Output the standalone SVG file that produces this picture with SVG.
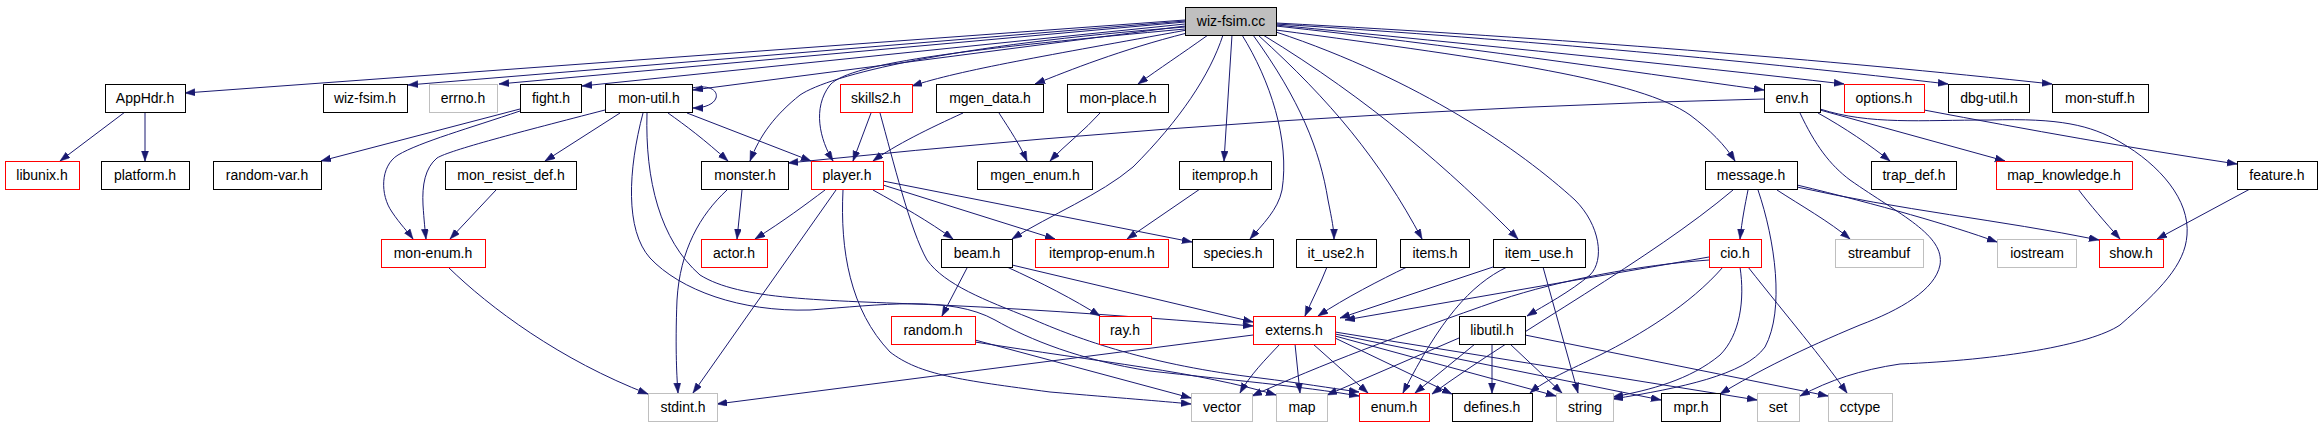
<svg xmlns="http://www.w3.org/2000/svg" width="2323" height="427" viewBox="0 0 2323 427">
<style>
rect{fill:#fff;stroke:#000;stroke-width:1}
rect.r{stroke:#ff0000}
rect.g{stroke:#bfbfbf}
rect.m{fill:#bfbfbf;stroke:#000}
text{font-family:"Liberation Sans",Arial,sans-serif;font-size:14px;text-anchor:middle;fill:#000}
#edges path{fill:none;stroke:#191970;stroke-width:1;marker-end:url(#arr)}
</style>
<defs>
<marker id="arr" markerUnits="userSpaceOnUse" markerWidth="11" markerHeight="8" refX="10" refY="3.5" orient="auto">
<path d="M0,0 L10,3.5 L0,7 z" fill="#191970" stroke="#191970" stroke-width="0.5"/>
</marker>
</defs>
<rect x="0" y="0" width="2323" height="427" style="fill:#fff;stroke:none"/>
<g id="edges">
<path d="M1185,20 L185,93"/>
<path d="M1185,21 L408,85"/>
<path d="M1185,22 L499,84"/>
<path d="M1185,24 L582,86"/>
<path d="M1185,26 L693,90"/>
<path d="M1185,27 C950,45 830,75 800,95 C775,115 760,135 750,161"/>
<path d="M1185,29 C980,48 850,62 830,85 C812,108 820,140 833,161"/>
<path d="M1187,30 C1050,55 960,70 912,86"/>
<path d="M1187,33 C1120,50 1070,70 1035,84"/>
<path d="M1208,35 C1180,55 1160,68 1138,84"/>
<path d="M1232,35 L1224,161"/>
<path d="M1223,35 C1210,75 1180,120 1133,167 C1100,195 1050,215 1012,239"/>
<path d="M1242,35 C1270,80 1290,140 1282,190 C1278,210 1262,225 1250,239"/>
<path d="M1253,35 C1300,100 1320,150 1328,200 C1332,220 1334,230 1334,239"/>
<path d="M1258,35 C1330,100 1380,160 1422,239"/>
<path d="M1263,35 C1370,100 1450,170 1518,239"/>
<path d="M1276,32 C1420,80 1520,150 1575,200 C1600,225 1605,260 1590,275 C1570,292 1545,305 1527,316"/>
<path d="M1276,30 C1500,60 1640,80 1690,115 C1710,130 1725,145 1735,161"/>
<path d="M1276,26 C1450,45 1620,70 1764,90"/>
<path d="M1276,25 C1480,45 1680,65 1844,84"/>
<path d="M1276,24 C1530,40 1760,62 1948,84"/>
<path d="M1276,23 C1560,38 1830,60 2052,84"/>
<path d="M125,112 L60,161"/>
<path d="M145,112 L145,161"/>
<path d="M520,109 L321,161"/>
<path d="M520,111 C470,128 420,142 398,155 C380,166 380,195 392,212 C400,224 408,232 413,239"/>
<path d="M605,110 C520,132 450,150 437,158 C425,168 422,185 423,205 C424,220 425,230 426,239"/>
<path d="M620,113 L545,161"/>
<path d="M496,190 L450,239"/>
<path d="M448,267 C490,308 560,360 648,394"/>
<path d="M692,88 C712,84 718,92 716,98 C714,104 705,108 693,108"/>
<path d="M668,113 C685,125 705,140 728,161"/>
<path d="M687,113 L811,161"/>
<path d="M647,113 C645,180 660,240 700,275 C740,300 820,300 940,305 C1050,310 1150,318 1253,326"/>
<path d="M643,113 C628,170 625,230 650,258 C680,290 740,312 810,310 C880,305 950,295 995,320 C1030,340 1080,360 1150,371 C1230,380 1300,386 1359,396"/>
<path d="M742,190 L737,239"/>
<path d="M727,190 C700,215 680,250 677,300 C675,350 677,380 678,393"/>
<path d="M825,190 C805,205 785,220 755,239"/>
<path d="M836,190 L693,393"/>
<path d="M843,190 C840,250 850,310 890,352 C920,375 960,380 1050,392 C1120,398 1160,401 1191,404"/>
<path d="M873,190 C900,205 930,222 953,239"/>
<path d="M883,185 L1055,239"/>
<path d="M883,181 L1192,242"/>
<path d="M871,113 L853,161"/>
<path d="M880,113 C893,160 910,230 927,260 C945,285 985,300 1030,318 C1080,340 1150,365 1260,378 C1300,383 1330,388 1359,392"/>
<path d="M963,113 C930,128 895,145 873,161"/>
<path d="M999,113 C1010,130 1020,145 1027,161"/>
<path d="M1100,113 C1085,130 1065,145 1050,161"/>
<path d="M1200,189 L1127,239"/>
<path d="M967,268 L942,316"/>
<path d="M1007,267 C1040,282 1075,300 1100,316"/>
<path d="M1012,265 L1253,322"/>
<path d="M975,340 L1191,398"/>
<path d="M975,342 C1100,362 1200,372 1276,395"/>
<path d="M1253,335 L717,404"/>
<path d="M1280,344 C1265,360 1250,375 1240,393"/>
<path d="M1295,344 L1300,393"/>
<path d="M1313,344 L1368,393"/>
<path d="M1335,338 L1452,394"/>
<path d="M1335,336 L1556,396"/>
<path d="M1335,334 L1661,400"/>
<path d="M1335,332 L1757,400"/>
<path d="M1327,267 C1320,285 1312,300 1305,316"/>
<path d="M1407,267 C1380,280 1345,298 1318,316"/>
<path d="M1493,267 L1340,318"/>
<path d="M1507,267 C1470,285 1440,320 1403,393"/>
<path d="M1543,267 L1578,393"/>
<path d="M1459,338 L1327,395"/>
<path d="M1475,344 L1415,393"/>
<path d="M1492,344 L1492,393"/>
<path d="M1510,344 L1562,393"/>
<path d="M1525,335 L1828,396"/>
<path d="M1709,257 L1345,320"/>
<path d="M1709,260 C1640,265 1560,280 1500,300 C1400,335 1320,365 1252,396"/>
<path d="M1723,267 C1690,305 1640,335 1600,355 C1570,370 1545,380 1530,393"/>
<path d="M1740,267 C1745,300 1740,335 1720,355 C1690,380 1650,390 1613,397"/>
<path d="M1733,190 C1650,260 1520,330 1432,394"/>
<path d="M1758,190 C1775,240 1785,310 1765,347 C1745,375 1680,388 1613,399"/>
<path d="M1748,267 C1790,320 1820,355 1847,393"/>
<path d="M1748,190 C1745,205 1742,220 1740,239"/>
<path d="M1777,190 C1800,205 1830,222 1850,239"/>
<path d="M1797,185 C1880,205 1950,225 1997,242"/>
<path d="M1797,187 C1900,210 2000,220 2099,240"/>
<path d="M1764,99 Q1300,110 788,163"/>
<path d="M1818,113 C1845,128 1870,145 1890,161"/>
<path d="M1820,110 L2005,161"/>
<path d="M1800,113 C1815,145 1830,165 1850,180 C1900,215 1945,235 1940,265 C1935,290 1900,310 1860,325 C1800,350 1760,370 1720,394"/>
<path d="M1820,109 C1870,125 1920,120 1990,120 C2060,118 2090,125 2120,142 C2160,165 2190,200 2187,235 C2185,265 2160,290 2120,325 C2090,345 2000,360 1900,364 C1860,370 1830,380 1800,396"/>
<path d="M1924,110 C2030,130 2130,148 2237,164"/>
<path d="M2078,189 C2090,205 2105,222 2120,239"/>
<path d="M2250,189 L2157,239"/>
</g>
<g id="node-wiz-fsim-cc"><rect class="m" x="1185.5" y="7.5" width="91" height="28"/><text x="1231" y="26">wiz-fsim.cc</text></g>
<g id="node-AppHdr"><rect x="105.5" y="84.5" width="80" height="28"/><text x="145" y="103">AppHdr.h</text></g>
<g id="node-wiz-fsim-h"><rect x="323.5" y="84.5" width="84" height="28"/><text x="365" y="103">wiz-fsim.h</text></g>
<g id="node-errno"><rect class="g" x="429.5" y="84.5" width="68" height="28"/><text x="463" y="103">errno.h</text></g>
<g id="node-fight"><rect x="520.5" y="84.5" width="61" height="28"/><text x="551" y="103">fight.h</text></g>
<g id="node-mon-util"><rect x="605.5" y="84.5" width="87" height="28"/><text x="649" y="103">mon-util.h</text></g>
<g id="node-skills2"><rect class="r" x="840.5" y="84.5" width="72" height="28"/><text x="876" y="103">skills2.h</text></g>
<g id="node-mgen_data"><rect x="936.5" y="84.5" width="107" height="28"/><text x="990" y="103">mgen_data.h</text></g>
<g id="node-mon-place"><rect x="1067.5" y="84.5" width="101" height="28"/><text x="1118" y="103">mon-place.h</text></g>
<g id="node-env"><rect x="1764.5" y="84.5" width="56" height="28"/><text x="1792" y="103">env.h</text></g>
<g id="node-options"><rect class="r" x="1844.5" y="84.5" width="80" height="28"/><text x="1884" y="103">options.h</text></g>
<g id="node-dbg-util"><rect x="1948.5" y="84.5" width="81" height="28"/><text x="1989" y="103">dbg-util.h</text></g>
<g id="node-mon-stuff"><rect x="2052.5" y="84.5" width="96" height="28"/><text x="2100" y="103">mon-stuff.h</text></g>
<g id="node-libunix"><rect class="r" x="5.5" y="161.5" width="74" height="28"/><text x="42" y="180">libunix.h</text></g>
<g id="node-platform"><rect x="101.5" y="161.5" width="88" height="28"/><text x="145" y="180">platform.h</text></g>
<g id="node-random-var"><rect x="213.5" y="161.5" width="108" height="28"/><text x="267" y="180">random-var.h</text></g>
<g id="node-mon_resist_def"><rect x="445.5" y="161.5" width="131" height="28"/><text x="511" y="180">mon_resist_def.h</text></g>
<g id="node-monster"><rect x="701.5" y="161.5" width="87" height="28"/><text x="745" y="180">monster.h</text></g>
<g id="node-player"><rect class="r" x="811.5" y="161.5" width="72" height="28"/><text x="847" y="180">player.h</text></g>
<g id="node-mgen_enum"><rect x="977.5" y="161.5" width="115" height="28"/><text x="1035" y="180">mgen_enum.h</text></g>
<g id="node-itemprop"><rect x="1179.5" y="161.5" width="92" height="28"/><text x="1225" y="180">itemprop.h</text></g>
<g id="node-message"><rect x="1705.5" y="161.5" width="92" height="28"/><text x="1751" y="180">message.h</text></g>
<g id="node-trap_def"><rect x="1871.5" y="161.5" width="85" height="28"/><text x="1914" y="180">trap_def.h</text></g>
<g id="node-map_knowledge"><rect class="r" x="1996.5" y="161.5" width="136" height="28"/><text x="2064" y="180">map_knowledge.h</text></g>
<g id="node-feature"><rect x="2237.5" y="161.5" width="80" height="28"/><text x="2277" y="180">feature.h</text></g>
<g id="node-mon-enum"><rect class="r" x="381.5" y="239.5" width="104" height="28"/><text x="433" y="258">mon-enum.h</text></g>
<g id="node-actor"><rect class="r" x="701.5" y="239.5" width="66" height="28"/><text x="734" y="258">actor.h</text></g>
<g id="node-beam"><rect x="941.5" y="239.5" width="71" height="28"/><text x="977" y="258">beam.h</text></g>
<g id="node-itemprop-enum"><rect class="r" x="1035.5" y="239.5" width="133" height="28"/><text x="1102" y="258">itemprop-enum.h</text></g>
<g id="node-species"><rect x="1192.5" y="239.5" width="81" height="28"/><text x="1233" y="258">species.h</text></g>
<g id="node-it_use2"><rect x="1296.5" y="239.5" width="80" height="28"/><text x="1336" y="258">it_use2.h</text></g>
<g id="node-items"><rect x="1400.5" y="239.5" width="69" height="28"/><text x="1435" y="258">items.h</text></g>
<g id="node-item_use"><rect x="1493.5" y="239.5" width="92" height="28"/><text x="1539" y="258">item_use.h</text></g>
<g id="node-cio"><rect class="r" x="1709.5" y="239.5" width="52" height="28"/><text x="1735" y="258">cio.h</text></g>
<g id="node-streambuf"><rect class="g" x="1835.5" y="239.5" width="88" height="28"/><text x="1879" y="258">streambuf</text></g>
<g id="node-iostream"><rect class="g" x="1997.5" y="239.5" width="79" height="28"/><text x="2037" y="258">iostream</text></g>
<g id="node-show"><rect class="r" x="2099.5" y="239.5" width="64" height="28"/><text x="2131" y="258">show.h</text></g>
<g id="node-random"><rect class="r" x="891.5" y="316.5" width="84" height="28"/><text x="933" y="335">random.h</text></g>
<g id="node-ray"><rect class="r" x="1099.5" y="316.5" width="52" height="28"/><text x="1125" y="335">ray.h</text></g>
<g id="node-externs"><rect class="r" x="1253.5" y="316.5" width="82" height="28"/><text x="1294" y="335">externs.h</text></g>
<g id="node-libutil"><rect x="1459.5" y="316.5" width="66" height="28"/><text x="1492" y="335">libutil.h</text></g>
<g id="node-stdint"><rect class="g" x="648.5" y="393.5" width="69" height="28"/><text x="683" y="412">stdint.h</text></g>
<g id="node-vector"><rect class="g" x="1191.5" y="393.5" width="61" height="28"/><text x="1222" y="412">vector</text></g>
<g id="node-map"><rect class="g" x="1276.5" y="393.5" width="51" height="28"/><text x="1302" y="412">map</text></g>
<g id="node-enum"><rect class="r" x="1359.5" y="393.5" width="70" height="28"/><text x="1394" y="412">enum.h</text></g>
<g id="node-defines"><rect x="1452.5" y="393.5" width="80" height="28"/><text x="1492" y="412">defines.h</text></g>
<g id="node-string"><rect class="g" x="1556.5" y="393.5" width="57" height="28"/><text x="1585" y="412">string</text></g>
<g id="node-mpr"><rect x="1661.5" y="393.5" width="59" height="28"/><text x="1691" y="412">mpr.h</text></g>
<g id="node-set"><rect class="g" x="1757.5" y="393.5" width="42" height="28"/><text x="1778" y="412">set</text></g>
<g id="node-cctype"><rect class="g" x="1828.5" y="393.5" width="64" height="28"/><text x="1860" y="412">cctype</text></g>
</svg>
